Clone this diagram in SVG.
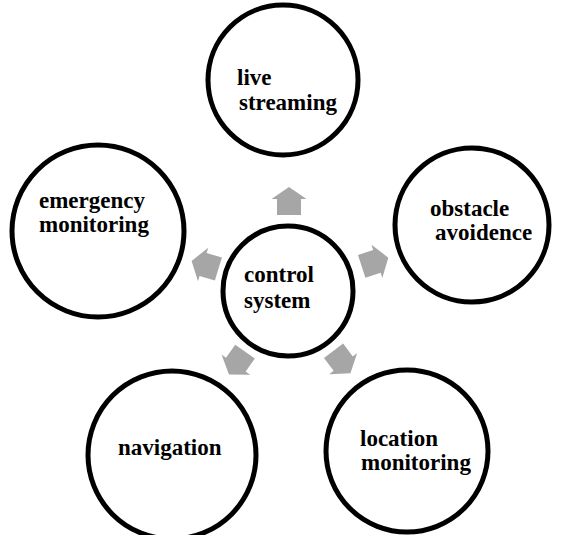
<svg xmlns="http://www.w3.org/2000/svg" width="561" height="535" viewBox="0 0 561 535">
  <style>
    .ring { fill: #ffffff; stroke: #000000; stroke-width: 5; }
    .lbl { font-family: "Liberation Serif", "Times New Roman", serif; font-weight: bold; font-size: 23px; fill: #000000; }
    .arr { fill: #a6a6a6; }
  </style>
  <defs>
    <!-- block arrow pointing along +x, centred on the origin -->
    <polygon id="blockArrow" points="14,0 2,-17.5 2,-12 -14,-12 -14,12 2,12 2,17.5"/>
  </defs>
  <rect width="561" height="535" fill="#ffffff"/>

  <g id="connectors" class="arr">
    <use href="#blockArrow" transform="translate(289,201) rotate(-90)"/>
    <use href="#blockArrow" transform="translate(205,265) rotate(197)"/>
    <use href="#blockArrow" transform="translate(375,262) rotate(-18)"/>
    <use href="#blockArrow" transform="translate(237,363) rotate(125)"/>
    <use href="#blockArrow" transform="translate(342,362) rotate(53)"/>
  </g>

  <g id="control-system">
    <circle class="ring" cx="288" cy="291" r="65"/>
    <text class="lbl" x="244" y="282">control</text>
    <text class="lbl" x="244" y="308">system</text>
  </g>

  <g id="live-streaming">
    <circle class="ring" cx="283" cy="80" r="75"/>
    <text class="lbl" x="237" y="85">live</text>
    <text class="lbl" x="239" y="110">streaming</text>
  </g>

  <g id="emergency-monitoring">
    <circle class="ring" cx="98" cy="231" r="86"/>
    <text class="lbl" x="39" y="208">emergency</text>
    <text class="lbl" x="39" y="232">monitoring</text>
  </g>

  <g id="obstacle-avoidence">
    <circle class="ring" cx="472" cy="225" r="77"/>
    <text class="lbl" x="430" y="216">obstacle</text>
    <text class="lbl" x="435" y="240">avoidence</text>
  </g>

  <g id="navigation">
    <circle class="ring" cx="172" cy="455" r="84"/>
    <text class="lbl" x="118" y="455">navigation</text>
  </g>

  <g id="location-monitoring">
    <circle class="ring" cx="407" cy="451" r="81"/>
    <text class="lbl" x="360" y="446">location</text>
    <text class="lbl" x="361" y="470">monitoring</text>
  </g>
</svg>
